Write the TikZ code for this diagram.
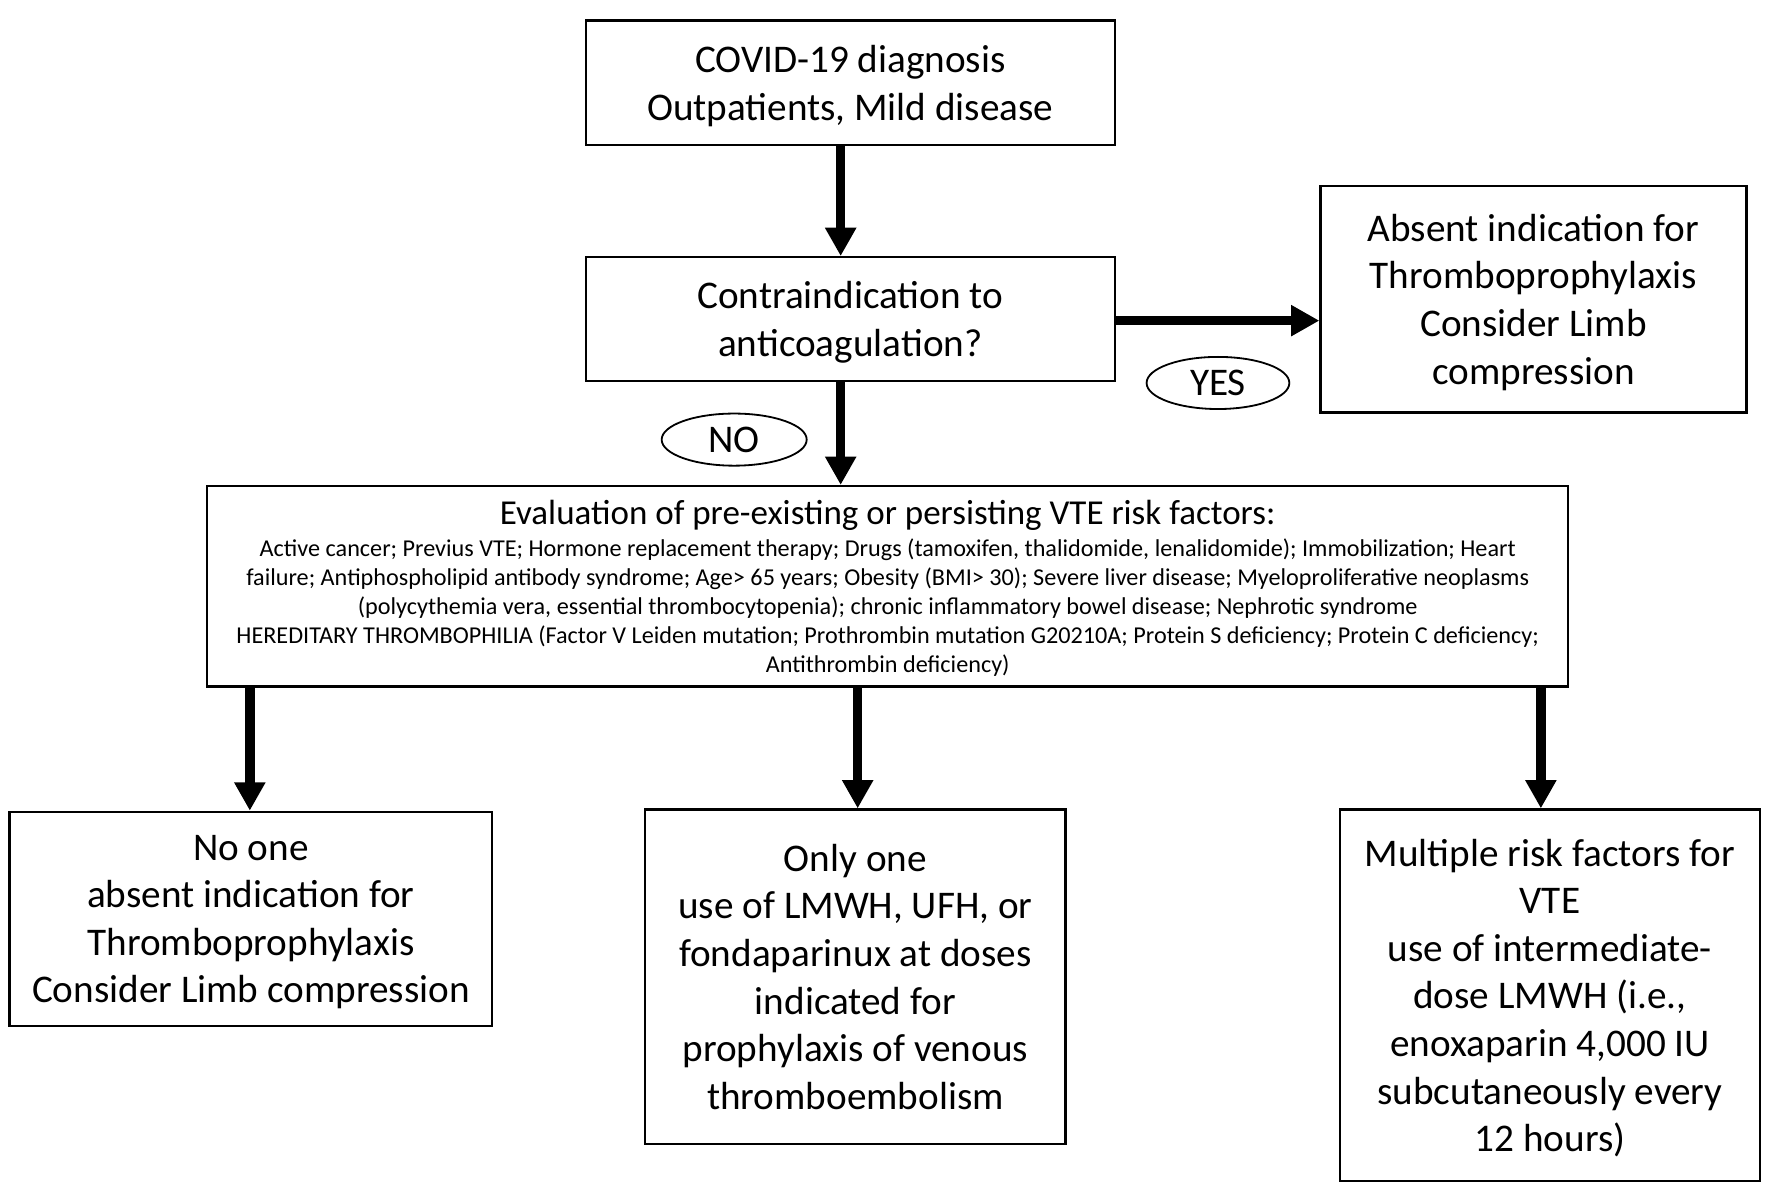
\documentclass[tikz,border=0pt]{standalone}
\usepackage{fontspec}
\setmainfont{Carlito}
\usetikzlibrary{
	positioning				% Allows relative placement
	, arrows.meta			% Allows Triangle style arrow tips
	, shapes.geometric		% Allows ellipse nodes
	, calc
}
\newcommand{\boxfont}{\fontsize{17.3}{21}\selectfont}
\newcommand{\headfont}{\fontsize{15.45}{18}\selectfont}
\newcommand{\listfont}{\fontsize{10.68}{12.75}\selectfont}

\begin{document}
\begin{tikzpicture}[
		x=0.5pt, y=-0.5pt
		, textbox/.style={draw, line width=1pt, align=center, inner sep=0pt, text depth=0pt, font=\boxfont}
		, answer/.style={draw, ellipse, line width=0.8pt, inner sep=0pt, minimum width=63pt, minimum height=23pt, font=\boxfont}
		, flow/.style={-{Triangle[length=12.5pt,width=13pt]}, line width=4.2pt}
	]
	\useasboundingbox (0,0) rectangle (1564,1046);

	% Draw the diagnosis and the first question
	\node[textbox, minimum width=233.5pt, minimum height=55pt] (covid) at (750.5,73) {COVID-19 diagnosis\\Outpatients, Mild disease};
	\node[textbox, minimum width=233.5pt, minimum height=54.5pt] (contra) at (750.5,281.5) {Contraindication to\\anticoagulation?};
	\node[textbox, minimum width=188pt, minimum height=100pt] (absent) at (1353.5,264) {Absent indication for\\Thromboprophylaxis\\Consider Limb\\compression};

	% Draw the answers
	\node[answer] (yes) at (1075,338) {YES};
	\node[answer, minimum width=64pt] (no) at (648,388) {NO};

	% Draw the risk factor evaluation
	\node[textbox, minimum width=600.5pt, minimum height=88.5pt, font=\listfont] (eval) at (783.5,517.5) {{\headfont Evaluation of pre-existing or persisting VTE risk factors:}\\[1.5pt]
		Active cancer; Previus VTE; Hormone replacement therapy; Drugs (tamoxifen, thalidomide, lenalidomide); Immobilization; Heart\\
		failure; Antiphospholipid antibody syndrome; Age> 65 years; Obesity (BMI> 30); Severe liver disease; Myeloproliferative neoplasms\\
		(polycythemia vera, essential thrombocytopenia); chronic inflammatory bowel disease; Nephrotic syndrome\\
		HEREDITARY THROMBOPHILIA (Factor V Leiden mutation; Prothrombin mutation G20210A; Protein S deficiency; Protein C deficiency;\\
		Antithrombin deficiency)};

	% Draw the three outcomes
	\node[textbox, minimum width=213pt, minimum height=94.5pt] (none) at (221.5,811) {No one\\absent indication for\\Thromboprophylaxis\\Consider Limb compression};
	\node[textbox, minimum width=185.5pt, minimum height=147.5pt] (one) at (755,862) {Only one\\use of LMWH, UFH, or\\fondaparinux at doses\\indicated for\\prophylaxis of venous\\thromboembolism};
	\node[textbox, minimum width=185.5pt, minimum height=164pt] (multi) at (1368,878.5) {Multiple risk factors for\\VTE\\use of intermediate-\\dose LMWH (i.e.,\\enoxaparin 4,000 IU\\subcutaneously every\\12 hours)};

	% Draw the arrows between the steps
	\draw[flow] ([xshift=-4.25pt]covid.south) -- ([xshift=-4.25pt]contra.north);
	\draw[flow] ([yshift=-0.75pt]contra.east) -- ([yshift=-0.75pt]contra.east -| absent.west);
	\draw[flow] ([xshift=-4.25pt]contra.south) -- ([xshift=-4.25pt]contra.south |- eval.north);

	% Loop through each of the outcomes
	\foreach \outcome/\dx in {none/-0.5, one/1, multi/-4} {
		\coordinate (top-\outcome) at ([xshift=\dx pt]\outcome.north);
		\draw[flow] (top-\outcome |- eval.south) -- (top-\outcome);
	};
\end{tikzpicture}
\end{document}
